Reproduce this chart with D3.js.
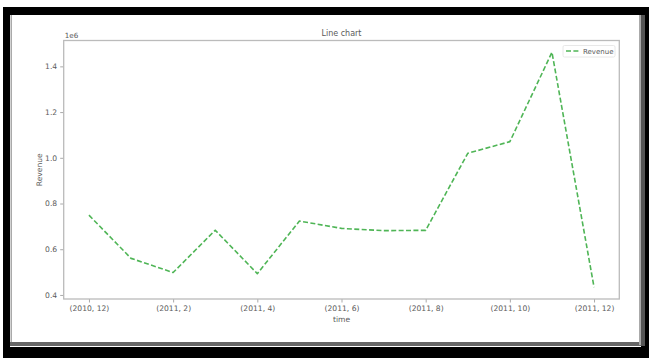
<!DOCTYPE html>
<html>
<head>
<meta charset="utf-8">
<script src="https://cdn.jsdelivr.net/npm/d3@7"></script>
<style>
  html, body { margin: 0; padding: 0; background: #fff; }
  svg { display: block; }
  text { font-family: "DejaVu Sans", sans-serif; }
</style>
</head>
<body>
<svg id="chart" width="649" height="358"></svg>
<script>
// Data
const months = ["(2010, 12)", "(2011, 1)", "(2011, 2)", "(2011, 3)", "(2011, 4)", "(2011, 5)", "(2011, 6)",
                "(2011, 7)", "(2011, 8)", "(2011, 9)", "(2011, 10)", "(2011, 11)", "(2011, 12)"];
const revenue = [748957, 560000, 498063, 683267, 493207, 723334, 691123, 681300, 682681, 1019688, 1070705, 1461756, 433668];
const xTickIdx = [0, 2, 4, 6, 8, 10, 12];
const yTicks = [0.4, 0.6, 0.8, 1.0, 1.2, 1.4];
const title = "Line chart";
const xLabel = "time";
const yLabel = "Revenue";
const seriesName = "Revenue";

const svg = d3.select("#chart");

// Frame (screenshot border)
svg.append("rect").attr("x", 0).attr("y", 0).attr("width", 649).attr("height", 358).attr("fill", "#fff");
svg.append("rect").attr("x", 3).attr("y", 7).attr("width", 646).attr("height", 351).attr("fill", "#000");
svg.append("rect").attr("x", 10).attr("y", 15).attr("width", 631).attr("height", 332).attr("fill", "#fff");
svg.append("rect").attr("x", 10.5).attr("y", 15).attr("width", 1.5).attr("height", 330).attr("fill", "#aaa");
svg.append("rect").attr("x", 10).attr("y", 342).attr("width", 633).attr("height", 4).attr("fill", "#666");
svg.append("rect").attr("x", 639).attr("y", 15).attr("width", 2).attr("height", 330).attr("fill", "#aaa");
svg.append("rect").attr("x", 641).attr("y", 15).attr("width", 4).attr("height", 331).attr("fill", "#555");

// Plot area
const L = 63.7, R = 619.3, T = 40.5, B = 299;
const n = revenue.length;
const x = d3.scaleLinear().domain([-0.6, n - 1 + 0.6]).range([L, R]);
const ymin = d3.min(revenue), ymax = d3.max(revenue), pad = (ymax - ymin) * 0.05;
const y = d3.scaleLinear().domain([ymin - pad, ymax + pad]).range([B, T]);

const textColor = "#5a5a5a";
const axisColor = "#aaa";
const lineColor = "#4fb556";

// X axis
const xAxis = d3.axisBottom(x)
  .tickValues(xTickIdx)
  .tickFormat(i => months[i])
  .tickSize(3.5)
  .tickPadding(3);
const gx = svg.append("g").attr("transform", `translate(0,${B})`).call(xAxis);
gx.select(".domain").remove();
gx.selectAll("line").attr("stroke", axisColor);
gx.selectAll("text").attr("fill", textColor).attr("font-size", 7.6);

// Y axis
const yAxis = d3.axisLeft(y)
  .tickValues(yTicks.map(v => v * 1e6))
  .tickFormat(v => d3.format(".1f")(v / 1e6))
  .tickSize(3.5)
  .tickPadding(3);
const gy = svg.append("g").attr("transform", `translate(${L},0)`).call(yAxis);
gy.select(".domain").remove();
gy.selectAll("line").attr("stroke", axisColor);
gy.selectAll("text").attr("fill", textColor).attr("font-size", 7.6);

// Spines
svg.append("rect").attr("x", L).attr("y", T).attr("width", R - L).attr("height", B - T)
  .attr("fill", "none").attr("stroke", "#bbb").attr("stroke-width", 1.3);

// Line
const line = d3.line().x((d, i) => x(i)).y(d => y(d));
svg.append("path").datum(revenue)
  .attr("d", line)
  .attr("fill", "none")
  .attr("stroke", lineColor)
  .attr("stroke-width", 1.6)
  .attr("stroke-dasharray", "5,2.4")
  .attr("stroke-linejoin", "round");

// Offset text
svg.append("text").attr("x", L + 1).attr("y", T - 3).attr("font-size", 7.2).attr("fill", textColor).text("1e6");

// Title
svg.append("text").attr("x", (L + R) / 2).attr("y", T - 5).attr("text-anchor", "middle")
  .attr("font-size", 8).attr("fill", textColor).text(title);

// Axis labels
svg.append("text").attr("x", (L + R) / 2).attr("y", 322).attr("text-anchor", "middle")
  .attr("font-size", 7.6).attr("fill", textColor).text(xLabel);
svg.append("text").attr("transform", `translate(41.5,${(T + B) / 2}) rotate(-90)`).attr("text-anchor", "middle")
  .attr("font-size", 7.6).attr("fill", textColor).text(yLabel);

// Legend
const lg = svg.append("g");
lg.append("rect").attr("x", 563).attr("y", 45.5).attr("width", 52).attr("height", 11.5).attr("rx", 1.5)
  .attr("fill", "#fff").attr("stroke", "#e2e2e2").attr("stroke-width", 0.8);
lg.append("line").attr("x1", 566).attr("x2", 580).attr("y1", 51).attr("y2", 51)
  .attr("stroke", lineColor).attr("stroke-width", 1.6).attr("stroke-dasharray", "5,2.4");
lg.append("text").attr("x", 583).attr("y", 53.5).attr("font-size", 7).attr("fill", textColor).text(seriesName);
</script>
</body>
</html>
